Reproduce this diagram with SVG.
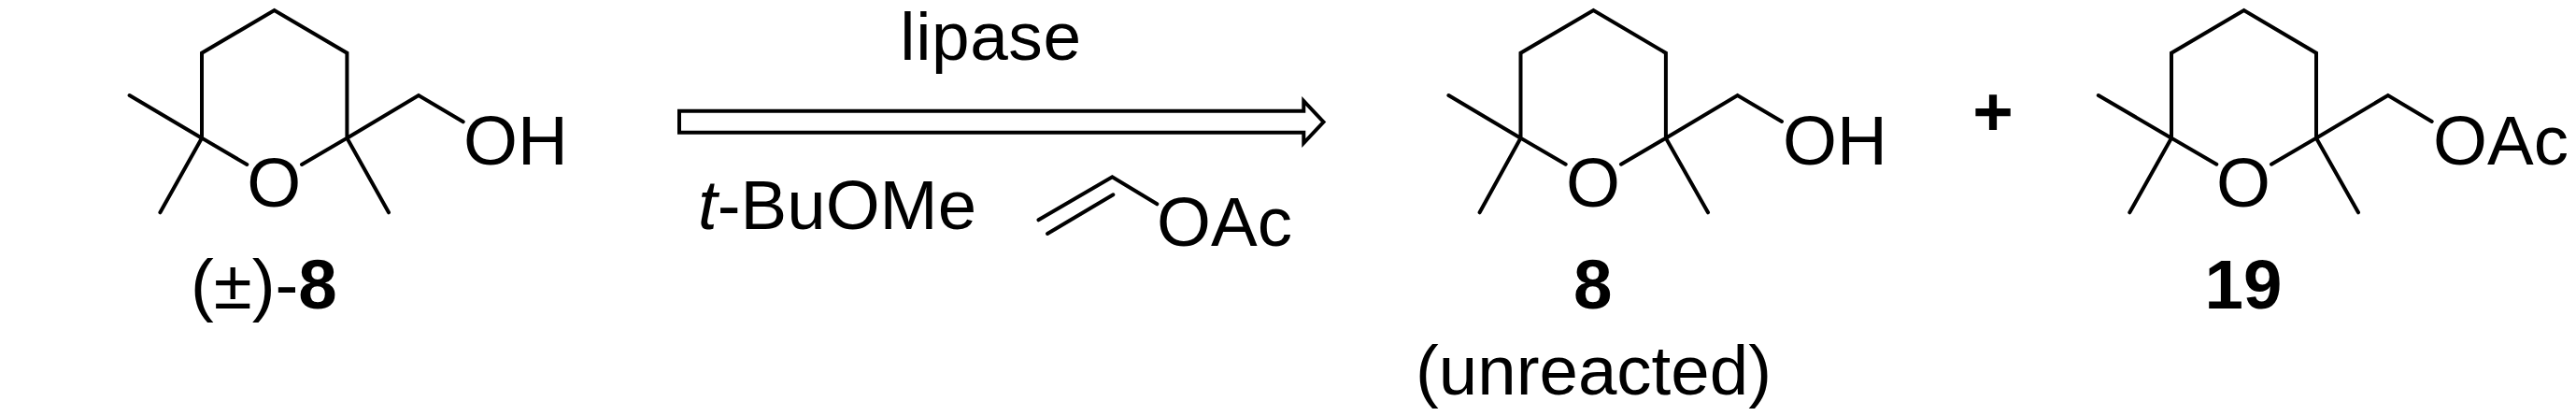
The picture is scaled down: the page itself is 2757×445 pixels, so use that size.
<svg xmlns="http://www.w3.org/2000/svg" width="2757" height="445" viewBox="0 0 2757 445">
<style>
.b{fill:none;stroke:#000;stroke-width:4;stroke-linecap:round;stroke-linejoin:miter}
text{font-family:"Liberation Sans",Arial,sans-serif;font-size:74.5px;fill:#000}
.m{text-anchor:middle}
.h{font-weight:bold}
</style>
<rect width="2757" height="445" fill="#fff"/>
<g id="mol-racemic-8">
<path class="b" d="M264.300 176L216 147.700V56.700L293.600 11L371.400 56.700V147.700L323 176M138.600 102L216 147.700L171.400 227.300M416 227.300L371.400 147.700L448 102L495.700 130.300"/>
<text class="m" x="293.300" y="221">O</text>
<text x="496" y="175.700">OH</text>
<text x="204" y="330">(±)-<tspan class="h">8</tspan></text>
</g>
<g id="reagents">
<text class="m" x="1060.500" y="64.300" style="font-size:73px;letter-spacing:.6px">lipase</text>
<text x="747" y="245"><tspan font-style="italic">t</tspan>-BuOMe</text>
<path class="b" d="M1111.400 235.300L1190.400 189.300L1238.400 218.300M1121 250L1191.400 208.300"/>
<text x="1238" y="262.700">OAc</text>
</g>
<g id="mol-8">
<path class="b" d="M1675.700 175.700L1627.500 147.700V56.700L1705.400 11L1782.900 56.700V147.700L1735 175.700M1550.400 102L1627.500 147.700L1583.600 227.300M1828 227.300L1782.900 147.700L1859.600 102L1907 130"/>
<text class="m" x="1705" y="221">O</text>
<text x="1908" y="175.700">OH</text>
<text class="m h" x="1704.600" y="330">8</text>
<text class="m" x="1705.500" y="421.700">(unreacted)</text>
</g>
<g id="plus"><text class="m h" x="2133" y="145">+</text></g>
<g id="mol-19">
<path class="b" d="M2372.300 175.700L2324 147.700V56.700L2401.600 11L2479 56.700V147.700L2431 175.700M2245.800 102L2324 147.700L2279.300 227.300M2524 227.300L2479 147.700L2555.800 102L2602.700 130"/>
<text class="m" x="2401" y="221">O</text>
<text x="2604" y="175.700">OAc</text>
<text class="m h" x="2401" y="330">19</text>
</g>
<g id="connectors">
<path d="M727 118.700H1395.300V108L1416.500 130.500L1395.300 153V141.700H727Z" fill="#fff" stroke="#000" stroke-width="4"/>
</g>
</svg>
